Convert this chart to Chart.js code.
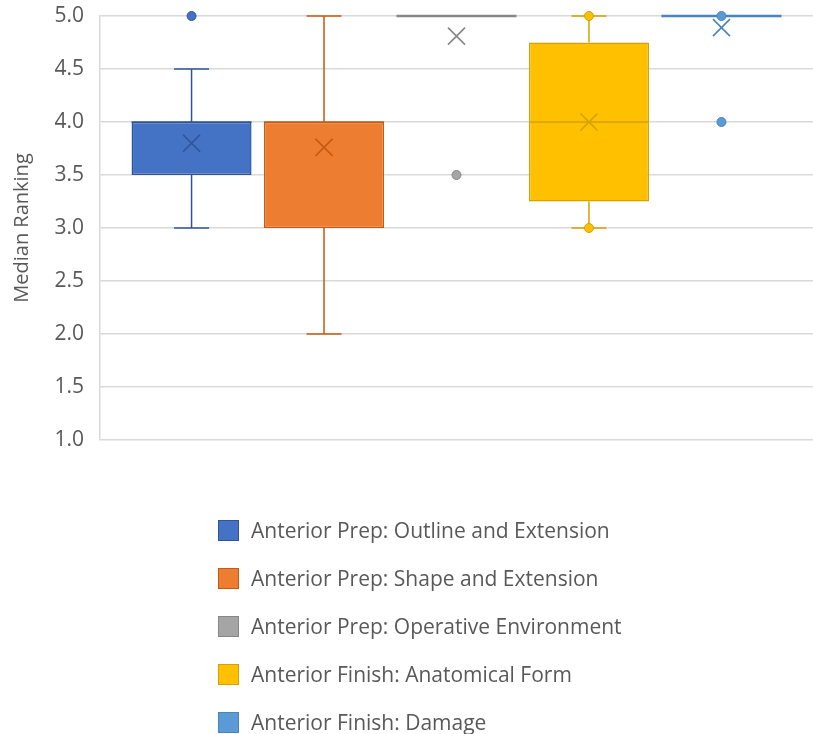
<!DOCTYPE html>
<html>
<head>
<meta charset="utf-8">
<script src="https://cdn.jsdelivr.net/npm/chart.js@4.4.0/dist/chart.umd.min.js"></script>
<style>
  html, body { margin: 0; padding: 0; background: #fff; }
  #wrap { position: relative; width: 813px; height: 734px; overflow: hidden; }
  #legend { position: absolute; left: 218px; top: 518px; font-family: "Open Sans", sans-serif; font-size: 21px; color: #595959; }
  .item { height: 48px; display: flex; align-items: flex-start; }
  .box { width: 19px; height: 19px; border: 1px solid; margin-top: 2px; margin-right: 12px; }
  .txt { line-height: 24px; white-space: nowrap; }
</style>
</head>
<body>
<div id="wrap">
  <canvas id="boxChart" width="813" height="734"></canvas>
  <div id="legend"></div>
</div>
<script>
/* ================= DATA ================= */
const seriesNames = [
  "Anterior Prep: Outline and Extension",
  "Anterior Prep: Shape and Extension",
  "Anterior Prep: Operative Environment",
  "Anterior Finish: Anatomical Form",
  "Anterior Finish: Damage"
];
const q1 = [3.5, 3.0, 5.0, 3.25, 5.0];
const q3 = [4.0, 4.0, 5.0, 4.75, 5.0];
const medians = [4.0, 4.0, 5.0, 4.0, 5.0];
const whiskerLow = [3.0, 2.0, 5.0, 3.0, 5.0];
const whiskerHigh = [4.5, 5.0, 5.0, 5.0, 5.0];
const means = [3.8, 3.76, 4.81, 4.0, 4.89];
const points = [[5.0], [], [3.5], [3.0, 5.0], [4.0, 5.0]];
const yTicks = [1.0, 1.5, 2.0, 2.5, 3.0, 3.5, 4.0, 4.5, 5.0];

/* ================= STYLE ================= */
const fills = ["#4472C4", "#ED7D31", "#A5A5A5", "#FFC000", "#5B9BD5"];
const edges = ["#2F5597", "#C55A11", "#878787", "#D4A106", "#4A84BF"];
const textColor = "#595959";
const gridColor = "#D9D9D9";

/* ================= BOX PARTS PLUGIN ================= */
const boxParts = {
  id: "boxParts",
  afterDatasetsDraw(chart) {
    const ctx = chart.ctx;
    const y = chart.scales.y;
    ctx.save();
    seriesNames.forEach((name, i) => {
      const bar = chart.getDatasetMeta(i).data[0];
      if (!bar) return;
      const x = bar.x;
      const half = bar.width / 2;
      const cap = 17.5;
      ctx.strokeStyle = edges[i];
      ctx.lineWidth = 1.5;

      // whiskers
      ctx.beginPath();
      if (whiskerHigh[i] > q3[i]) {
        ctx.moveTo(x, y.getPixelForValue(q3[i]));
        ctx.lineTo(x, y.getPixelForValue(whiskerHigh[i]));
        ctx.moveTo(x - cap, y.getPixelForValue(whiskerHigh[i]));
        ctx.lineTo(x + cap, y.getPixelForValue(whiskerHigh[i]));
      }
      if (whiskerLow[i] < q1[i]) {
        ctx.moveTo(x, y.getPixelForValue(q1[i]));
        ctx.lineTo(x, y.getPixelForValue(whiskerLow[i]));
        ctx.moveTo(x - cap, y.getPixelForValue(whiskerLow[i]));
        ctx.lineTo(x + cap, y.getPixelForValue(whiskerLow[i]));
      }
      ctx.stroke();

      // median
      ctx.lineWidth = q1[i] === q3[i] ? 2.5 : 1.5;
      ctx.beginPath();
      ctx.moveTo(x - half, y.getPixelForValue(medians[i]));
      ctx.lineTo(x + half, y.getPixelForValue(medians[i]));
      ctx.stroke();

      // mean marker
      const my = y.getPixelForValue(means[i]);
      const s = 8.5;
      ctx.lineWidth = 1.6;
      ctx.beginPath();
      ctx.moveTo(x - s, my - s);
      ctx.lineTo(x + s, my + s);
      ctx.moveTo(x + s, my - s);
      ctx.lineTo(x - s, my + s);
      ctx.stroke();

      // points
      points[i].forEach(v => {
        ctx.beginPath();
        ctx.arc(x, y.getPixelForValue(v), 4.5, 0, Math.PI * 2);
        ctx.fillStyle = fills[i];
        ctx.fill();
        ctx.lineWidth = 1;
        ctx.stroke();
      });
    });
    ctx.restore();
  }
};

/* ================= CHART ================= */
const chart = new Chart(document.getElementById("boxChart"), {
  type: "bar",
  data: {
    labels: [""],
    datasets: seriesNames.map((name, i) => ({
      label: name,
      data: [[q1[i], q3[i]]],
      backgroundColor: fills[i],
      borderColor: edges[i],
      borderWidth: 1.5,
      borderSkipped: false,
      categoryPercentage: 0.929,
      barPercentage: 0.906
    }))
  },
  options: {
    responsive: false,
    animation: false,
    layout: { padding: { top: 16, right: 0, bottom: 294, left: 0 } },
    plugins: {
      legend: { display: false },
      tooltip: { enabled: false }
    },
    scales: {
      x: { display: false },
      y: {
        min: 1,
        max: 5,
        afterBuildTicks: scale => { scale.ticks = yTicks.map(v => ({ value: v })); },
        afterFit: scale => { scale.width = 100; },
        ticks: {
          padding: 3,
          color: textColor,
          font: { family: "Open Sans", size: 21 },
          callback: v => Number(v).toFixed(1)
        },
        grid: { color: gridColor, lineWidth: 1.5, drawTicks: true, tickLength: 13, tickColor: "rgba(0,0,0,0)" },
        border: { display: true, color: gridColor, width: 1.5 },
        title: {
          display: true,
          text: "Median Ranking",
          color: textColor,
          font: { family: "Open Sans", size: 20 },
          padding: { top: 10, bottom: 0 }
        }
      }
    }
  },
  plugins: [boxParts]
});

/* ================= LEGEND ================= */
const legend = document.getElementById("legend");
seriesNames.forEach((name, i) => {
  const row = document.createElement("div");
  row.className = "item";
  row.innerHTML = '<div class="box" style="background:' + fills[i] + ';border-color:' + edges[i] + '"></div>' +
    '<div class="txt">' + name + '</div>';
  legend.appendChild(row);
});
</script>
</body>
</html>
